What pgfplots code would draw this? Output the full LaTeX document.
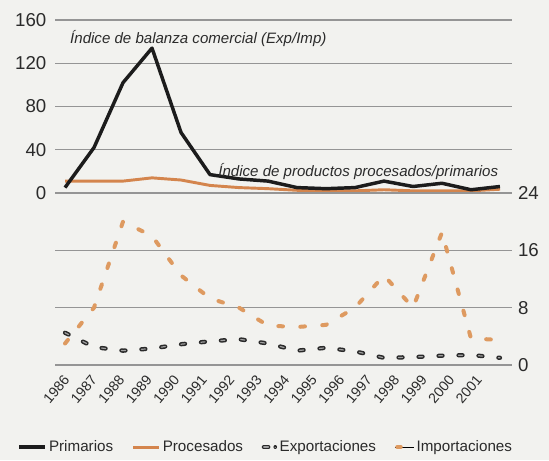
\documentclass[border=0pt]{standalone}
\usepackage{fontspec}
\setmainfont{Liberation Sans}
\usepackage{pgfplots}
\pgfplotsset{compat=1.18}

\definecolor{bg}{HTML}{F2F2EF}
\definecolor{gridc}{HTML}{959595}
\definecolor{txt}{HTML}{2B2B2B}
\definecolor{prim}{HTML}{1C1C1C}
\definecolor{proc}{HTML}{D4854D}
\definecolor{impc}{HTML}{DE9A60}
\definecolor{expc}{HTML}{2A2A2A}
\definecolor{expin}{HTML}{A0A0A0}

\tikzset{
  primline/.style={prim, line width=2.6pt, line join=round},
  procline/.style={proc, line width=2.2pt, line join=round},
  expline/.style={expc, line width=3.2pt, line cap=round, dash pattern=on 3pt off 12pt},
  expcore/.style={expin, line width=0.9pt, line cap=round, dash pattern=on 3pt off 12pt},
  impline/.style={impc, line width=3pt, line cap=round, dash pattern=on 3.5pt off 13pt},
}

\pgfplotsset{
  base/.style={
    anchor=south west, scale only axis, width=342.75pt,
    xmin=1985.655, xmax=2001.414,
    axis line style={draw=none}, major tick length=0pt,
    ymajorgrids, grid style={gridc, line width=0.8pt},
    tick label style={txt},
    /pgf/number format/assume math mode=true,
    clip=false,
  },
}

\begin{document}
\begin{tikzpicture}
\fill[bg] (0,0) rectangle (411.75pt,345pt);
\path[use as bounding box] (0,0) rectangle (411.75pt,345pt);

% upper panel: balanza comercial
\begin{axis}[base,
    at={(41.25pt,200.25pt)}, height=129.75pt,
    ymin=0, ymax=160, ytick={0,40,80,120,160}, xtick=\empty,
    yticklabel style={font=\fontsize{14}{16}\selectfont, xshift=-3pt},
]
\addplot[procline] coordinates {
  (1986,11) (1987,11) (1988,11) (1989,14) (1990,12) (1991,7) (1992,5) (1993,4)
  (1994,2.5) (1995,2) (1996,2) (1997,3) (1998,2) (1999,2) (2000,2) (2001,3.5)
};
\addplot[primline] coordinates {
  (1986,5) (1987,42) (1988,102) (1989,134) (1990,56) (1991,17) (1992,13) (1993,11)
  (1994,5) (1995,4) (1996,5) (1997,11) (1998,6) (1999,9) (2000,3) (2001,6)
};
\node[anchor=west, txt, inner sep=0pt, font=\fontsize{11.3}{13}\selectfont\itshape]
  at (axis cs:1986.17,143) {Índice de balanza comercial (Exp/Imp)};
\node[anchor=west, txt, inner sep=0pt, font=\fontsize{11.3}{13}\selectfont\itshape]
  at (axis cs:1991.28,19.4) {Índice de productos procesados/primarios};
\end{axis}

% lower panel: exportaciones e importaciones
\begin{axis}[base,
    at={(41.25pt,71.25pt)}, height=129pt,
    ymin=0, ymax=24, ytick={0,8,16,24}, yticklabel pos=right,
    yticklabel style={font=\fontsize{14}{16}\selectfont, anchor=west, xshift=1pt},
    xtick={1985.931,1986.879,1987.828,1988.776,1989.724,1990.672,1991.621,1992.569,
           1993.517,1994.466,1995.414,1996.362,1997.310,1998.259,1999.207,2000.155},
    xticklabels={1986,1987,1988,1989,1990,1991,1992,1993,1994,1995,1996,1997,1998,1999,2000,2001},
    xticklabel style={font=\fontsize{10.6}{12}\selectfont, rotate=50, anchor=east,
      yshift=-8pt, xshift=-2pt},
    legend style={at={(0.462,-0.477)}, anchor=center, draw=none, fill=none,
      legend columns=4, font=\fontsize{11.4}{13}\selectfont, text=txt,
      /tikz/every even column/.append style={column sep=12pt}},
]
\addlegendimage{legend image code/.code={\draw[primline] (0pt,0pt) -- (19pt,0pt);}}
\addlegendentry{Primarios\hspace{16pt}}
\addlegendimage{legend image code/.code={\draw[procline] (0pt,0pt) -- (19pt,0pt);}}
\addlegendentry{Procesados}
\addlegendimage{legend image code/.code={
  \draw[expc, line width=3pt, line cap=round] (1.5pt,0pt) -- (5pt,0pt);
  \draw[expin, line width=0.9pt, line cap=round] (1.5pt,0pt) -- (5pt,0pt);
  \draw[expc, line width=2.4pt, line cap=round] (10pt,0pt) -- (10.3pt,0pt);
  \draw[expin, line width=0.8pt, line cap=round] (10pt,0pt) -- (10.3pt,0pt);}}
\addlegendentry{Exportaciones}
\addlegendimage{legend image code/.code={
  \path (0pt,0pt) -- (14pt,0pt);
  \draw[impc, line width=2.6pt, line cap=round] (1.5pt,0pt) -- (4.5pt,0pt);}}
\addlegendentry{Importaciones}

\addplot[impline, forget plot] coordinates {
  (1986,3) (1987,8) (1988,20) (1989,18) (1990,12.5) (1991,9.3) (1992,8) (1993,5.5)
  (1994,5.3) (1995,5.6) (1996,8) (1997,12.5) (1998,8) (1999,18.5) (2000,3.7) (2001,3.5)
};
\addplot[expline, forget plot] coordinates {
  (1986,4.5) (1987,2.5) (1988,2.0) (1989,2.3) (1990,2.9) (1991,3.3) (1992,3.6) (1993,3.0)
  (1994,2.0) (1995,2.4) (1996,1.9) (1997,1.0) (1998,1.1) (1999,1.3) (2000,1.4) (2001,1.0)
};
\addplot[expcore, forget plot] coordinates {
  (1986,4.5) (1987,2.5) (1988,2.0) (1989,2.3) (1990,2.9) (1991,3.3) (1992,3.6) (1993,3.0)
  (1994,2.0) (1995,2.4) (1996,1.9) (1997,1.0) (1998,1.1) (1999,1.3) (2000,1.4) (2001,1.0)
};
\end{axis}
\end{tikzpicture}
\end{document}
